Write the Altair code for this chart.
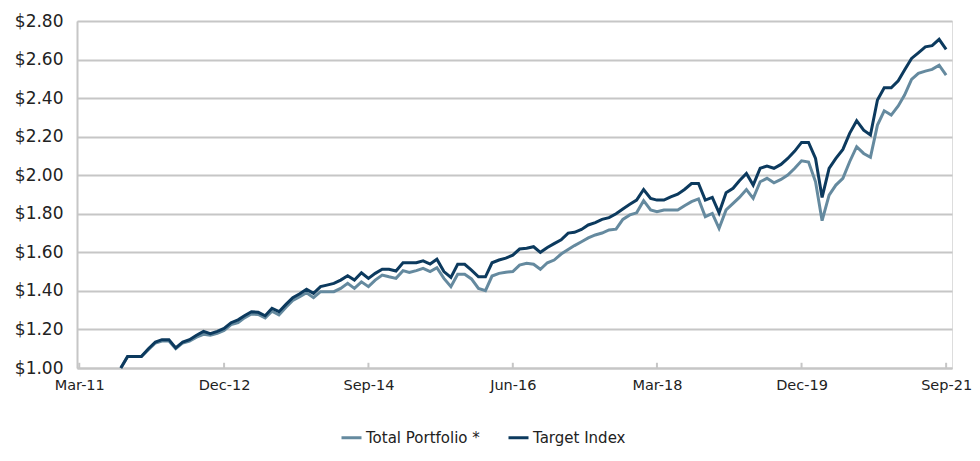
import altair as alt
import pandas as pd

# Monthly growth of $1, Sep-2011 .. Sep-2021
start_month = "2011-09-01"

target_index = [
    1.00, 1.06, 1.06, 1.06, 1.10, 1.135, 1.147, 1.147, 1.104, 1.135,
    1.147, 1.17, 1.19, 1.178, 1.19, 1.205, 1.235, 1.25, 1.271, 1.292,
    1.289, 1.271, 1.31, 1.292, 1.33, 1.365, 1.385, 1.408, 1.387, 1.422,
    1.43, 1.439, 1.456, 1.479, 1.456, 1.494, 1.465, 1.491, 1.512, 1.512,
    1.503, 1.546, 1.546, 1.546, 1.556, 1.539, 1.564, 1.50, 1.47, 1.538,
    1.538, 1.508, 1.473, 1.473, 1.546, 1.56, 1.57, 1.585, 1.617, 1.621,
    1.629, 1.60, 1.625, 1.645, 1.665, 1.70, 1.704, 1.719, 1.742, 1.754,
    1.771, 1.78, 1.80, 1.825, 1.849, 1.871, 1.926, 1.88, 1.871, 1.871,
    1.888, 1.902, 1.926, 1.957, 1.957, 1.871, 1.885, 1.805, 1.909, 1.932,
    1.971, 2.009, 1.949, 2.036, 2.048, 2.036, 2.056, 2.087, 2.125, 2.17,
    2.17, 2.087, 1.885, 2.036, 2.087, 2.134, 2.217, 2.283, 2.234, 2.209,
    2.39, 2.454, 2.454, 2.49, 2.546, 2.606, 2.635, 2.666, 2.672, 2.705,
    2.653,
]

total_portfolio = [
    1.00, 1.06, 1.06, 1.06, 1.095, 1.13, 1.14, 1.14, 1.10, 1.13,
    1.14, 1.16, 1.175, 1.17, 1.18, 1.195, 1.225, 1.235, 1.26, 1.28,
    1.278, 1.26, 1.295, 1.275, 1.315, 1.35, 1.37, 1.39, 1.365, 1.396,
    1.396, 1.396, 1.413, 1.439, 1.413, 1.447, 1.422, 1.456, 1.482, 1.473,
    1.465, 1.505, 1.496, 1.505, 1.517, 1.50, 1.52, 1.465, 1.422, 1.486,
    1.486, 1.462, 1.413, 1.401, 1.477, 1.491, 1.497, 1.50, 1.534, 1.543,
    1.538, 1.512, 1.546, 1.56, 1.591, 1.615, 1.635, 1.655, 1.675, 1.69,
    1.70, 1.716, 1.72, 1.771, 1.794, 1.805, 1.868, 1.82, 1.811, 1.82,
    1.82, 1.82, 1.842, 1.863, 1.877, 1.785, 1.802, 1.724, 1.82, 1.854,
    1.885, 1.926, 1.88, 1.966, 1.984, 1.961, 1.978, 2.001, 2.036, 2.075,
    2.068, 1.966, 1.764, 1.897, 1.949, 1.984, 2.07, 2.148, 2.113, 2.093,
    2.26, 2.334, 2.312, 2.359, 2.416, 2.497, 2.528, 2.54, 2.549, 2.571,
    2.519,
]

series_names = ["Total Portfolio *", "Target Index"]
series_colors = ["#658a9f", "#0c3a5e"]
y_ticks = [1.0, 1.2, 1.4, 1.6, 1.8, 2.0, 2.2, 2.4, 2.6, 2.8]
x_tick_dates = ["2011-03-01", "2012-12-01", "2014-09-01", "2016-06-01",
                "2018-03-01", "2019-12-01", "2021-09-01"]

dates = pd.date_range(start_month, periods=len(target_index), freq="MS").strftime("%Y-%m-%d")
df = pd.concat([
    pd.DataFrame({"date": dates, "value": total_portfolio, "series": series_names[0], "order": 0}),
    pd.DataFrame({"date": dates, "value": target_index, "series": series_names[1], "order": 1}),
])
ticks_df = pd.DataFrame({"date": x_tick_dates, "y0": 1.0, "y1": 1.027})

FONT = "DejaVu Sans"
GRID = "#c6c6c6"
TEXT = "#222222"


def dt(s):
    y, m, d = (int(p) for p in s.split("-"))
    return alt.DateTime(year=y, month=m, date=d, utc=True)


x_scale = alt.Scale(type="utc", domain=[dt("2011-02-19"), dt("2021-09-27")])
y_scale = alt.Scale(domain=[1.0, 2.8], nice=False, zero=False)

x_axis = alt.Axis(values=[dt(s) for s in x_tick_dates],
                  labelExpr="utcFormat(datum.value, '%b-%y')",
                  grid=False, ticks=False, labelOverlap=False,
                  domainColor=GRID, domainWidth=2,
                  labelFont=FONT, labelFontSize=14.5, labelColor=TEXT,
                  labelPadding=10, labelFlush=False)
y_axis = alt.Axis(values=y_ticks, format="$.2f", grid=True, tickCount=10,
                  gridColor=GRID, gridWidth=2, ticks=False,
                  labelOverlap=False, labelFlush=False,
                  domainColor=GRID, domainWidth=2,
                  labelFont=FONT, labelFontSize=17, labelColor=TEXT,
                  labelPadding=14)

lines = alt.Chart(df).mark_line(strokeWidth=3, strokeJoin="miter").encode(
    x=alt.X("date:T", scale=x_scale, title=None, axis=x_axis),
    y=alt.Y("value:Q", scale=y_scale, title=None, axis=y_axis),
    color=alt.Color("series:N",
                    scale=alt.Scale(domain=series_names, range=series_colors),
                    legend=alt.Legend(title=None, orient="none", direction="horizontal",
                                      legendX=263, legendY=405,
                                      symbolType="stroke", symbolStrokeWidth=3,
                                      symbolSize=400, labelFont=FONT, labelFontSize=15,
                                      labelColor=TEXT, columnPadding=22,
                                      labelOffset=3)),
    order=alt.Order("order:Q"),
    detail="series:N",
)

tick_marks = alt.Chart(ticks_df).mark_rule(color=GRID, strokeWidth=2).encode(
    x=alt.X("date:T", scale=x_scale, title=None, axis=x_axis),
    y=alt.Y("y0:Q", scale=y_scale, title=None, axis=y_axis),
    y2="y1:Q",
)

chart = alt.layer(lines, tick_marks).properties(
    width=875, height=347,
    autosize=alt.AutoSizeParams(type="none"),
    padding={"left": 69, "top": 13, "right": 20, "bottom": 85},
).configure_view(stroke=GRID, strokeWidth=2).configure(background="white")

chart.save("out.html", embed_options={"renderer": "svg", "actions": False})
